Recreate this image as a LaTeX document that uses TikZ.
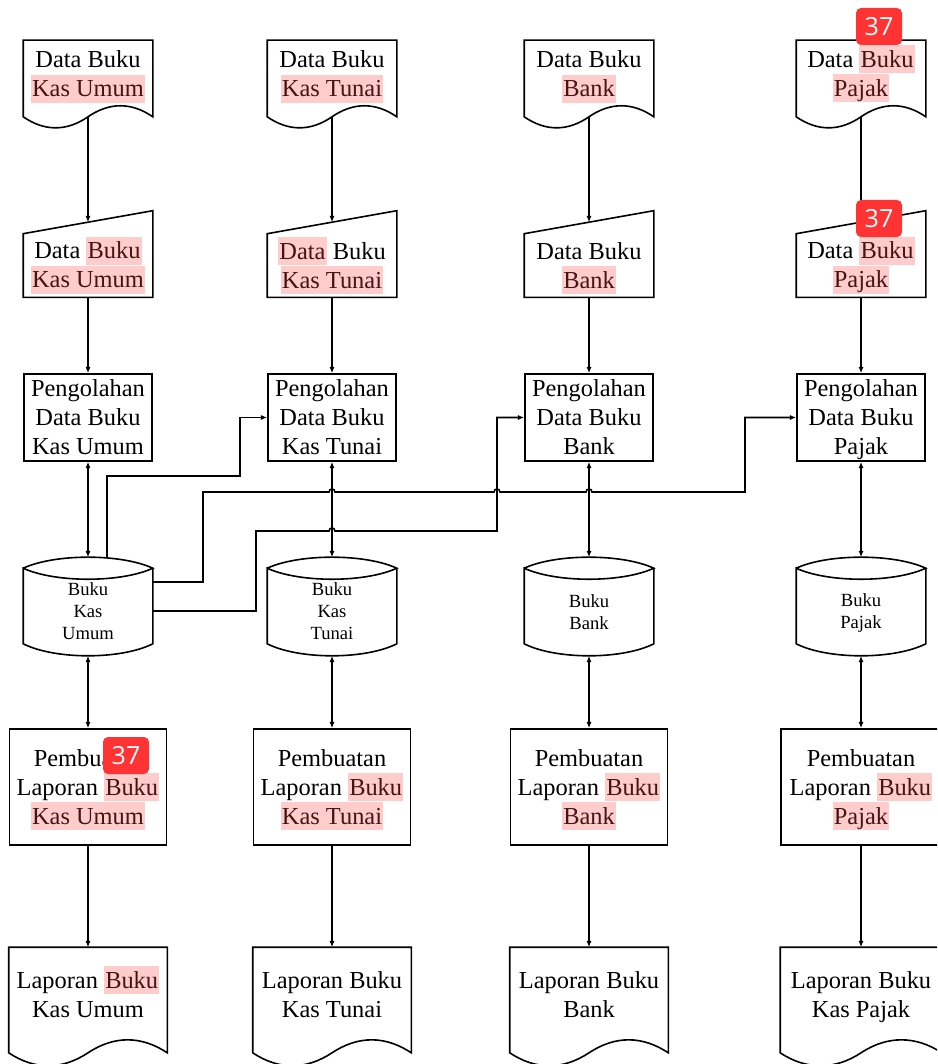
\documentclass[tikz,border=0pt]{standalone}
\usepackage{fontspec}
\setmainfont{Liberation Serif}
\newfontfamily\badgefont{Open Sans}
\usetikzlibrary{arrows.meta,calc}
\definecolor{hlpink}{RGB}{255,204,204}
\definecolor{hltext}{RGB}{70,20,20}
\definecolor{badgered}{RGB}{255,51,51}
\newcommand\hlt[1]{{\setlength{\fboxsep}{0pt}\smash{\colorbox{hlpink}{\rule[-3pt]{0pt}{14pt}\kern0.6pt\textcolor{hltext}{#1}\kern0.6pt}}}}
\newcommand\nodepth[1]{\raisebox{0pt}[\height][0pt]{#1}}
\begin{document}
\begin{tikzpicture}[x=0.5pt,y=-0.5pt,
 line width=0.8pt,
 >={Latex[length=3.2pt,width=2.6pt]},
 txt/.style={align=center,inner sep=0pt,font=\fontsize{12.2}{14.5}\selectfont},
 smalltxt/.style={align=center,inner sep=0pt,font=\fontsize{9.3}{11}\selectfont},
 topshape/.style={rectangle,inner sep=0pt,minimum width=64pt},
 docA/.style={topshape,minimum height=37.5pt},
 manual/.style={topshape,txt,minimum height=31pt},
 procC/.style={topshape,txt,draw,minimum height=43.5pt},
 cyl/.style={topshape,minimum height=48.5pt},
 procE/.style={rectangle,draw,txt,minimum width=78.5pt,minimum height=58pt},
 docF/.style={rectangle,inner sep=0pt,minimum width=78.5pt,minimum height=52pt},
 wide/.style={minimum width=80pt},
 badge/.style={fill=badgered,rounded corners=2.5pt,text=white,inner sep=0pt,minimum width=23pt,minimum height=18.5pt,font=\badgefont\fontsize{12.5}{12.5}\selectfont}
]
\fill[white] (0,0) rectangle (937,1064);
\useasboundingbox (0,0) rectangle (937,1064);
\clip (0,0) rectangle (937,1064);

% ---- row A: source documents
\node[docA] (dA1) at (88,78.5) {};
\node[docA] (dA2) at (332,78.5) {};
\node[docA] (dA3) at (589,78.5) {};
\node[docA] (dA4) at (861,78.5) {};
\node[txt] (tA1) at (88,74) {Data Buku\\\hlt{Kas Umum}};
\node[txt] (tA2) at (332,74) {Data Buku\\\hlt{Kas Tunai}};
\node[txt] (tA3) at (589,74) {Data Buku\\\hlt{Bank}};
\node[txt] (tA4) at (861,74) {Data \hlt{Buku}\\\hlt{Pajak}};

% ---- row B: manual input
\node[manual] (mB1) at (88,265.5) {Data \hlt{Buku}\\\hlt{Kas Umum}};
\node[manual] (mB2) at (332,265.5) {\hlt{Data} Buku\\\hlt{Kas Tunai}};
\node[manual] (mB3) at (589,265.5) {Data Buku\\\hlt{Bank}};
\node[manual] (mB4) at (861,265.5) {Data \hlt{Buku}\\\hlt{Pajak}};

% ---- row C: processing
\node[procC] (pC1) at (88,417.5) {Pengolahan\\Data Buku\\Kas Umum};
\node[procC] (pC2) at (332,417.5) {Pengolahan\\Data Buku\\Kas Tunai};
\node[procC] (pC3) at (589,417.5) {Pengolahan\\Data Buku\\Bank};
\node[procC] (pC4) at (861,417.5) {Pengolahan\\Data Buku\\\nodepth{Pajak}};

% ---- row D: storage
\node[cyl] (cD1) at (88,606.5) {};
\node[cyl] (cD2) at (332,606.5) {};
\node[cyl] (cD3) at (589,606.5) {};
\node[cyl] (cD4) at (861,606.5) {};
\node[smalltxt] (tD1) at (88,611) {Buku\\Kas\\Umum};
\node[smalltxt] (tD2) at (332,611) {Buku\\Kas\\Tunai};
\node[smalltxt] (tD3) at (589,612.5) {Buku\\Bank};
\node[smalltxt] (tD4) at (861,613) {Buku\\Pajak};

% ---- row E: report making
\node[procE] (pE1) at (88,787) {Pembuatan\\Laporan \hlt{Buku}\\\hlt{Kas Umum}};
\node[procE] (pE2) at (332,787) {Pembuatan\\Laporan \hlt{Buku}\\\hlt{Kas Tunai}};
\node[procE] (pE3) at (589,787) {Pembuatan\\Laporan \hlt{Buku}\\\hlt{Bank}};
\node[procE,wide] (pE4) at (861,787) {Pembuatan\\Laporan \hlt{Buku}\\\hlt{Pajak}};

% ---- row F: report documents
\node[docF] (dF1) at (88,1000) {};
\node[docF] (dF2) at (332,1000) {};
\node[docF] (dF3) at (589,1000) {};
\node[docF,wide] (dF4) at (861,1000) {};
\node[txt] (tF1) at (88,995) {Laporan \hlt{Buku}\\Kas Umum};
\node[txt] (tF2) at (332,995) {Laporan Buku\\Kas Tunai};
\node[txt] (tF3) at (589,995) {Laporan Buku\\Bank};
\node[txt] (tF4) at (861,997) {Laporan Buku\\Kas Pajak};

% ---- outlines
\foreach \n in {dA1,dA2,dA3,dA4}{
 \draw (\n.south east) -- (\n.north east) -- (\n.north west) -- (\n.south west)
   .. controls +(21.3,14.7) and +(-21.3,14.7) .. (\n.south)
   .. controls +(21.3,-14.7) and +(-21.3,-14.7) .. (\n.south east) -- cycle;
}
\foreach \n in {dF1,dF2,dF3,dF4}{
 \draw (\n.south east) -- (\n.north east) -- (\n.north west) -- (\n.south west)
   .. controls +(26.2,17.3) and +(-26.2,17.3) .. (\n.south)
   .. controls +(26.2,-17.3) and +(-26.2,-17.3) .. (\n.south east) -- cycle;
}
\foreach \n in {mB1,mB2,mB3,mB4}{
 \draw (\n.south west) -- (\n.north west) -- ($(\n.north east)+(0,-23)$) -- (\n.south east) -- cycle;
}
\foreach \n in {cD1,cD2,cD3,cD4}{
 \draw ($(\n.north west)+(0,11)$) .. controls +(32,-14.7) and +(-32,-14.7) .. ($(\n.north east)+(0,11)$)
   .. controls +(-32,14.7) and +(32,14.7) .. ($(\n.north west)+(0,11)$)
   -- ($(\n.south west)+(0,-12)$) .. controls +(32,16) and +(-32,16) .. ($(\n.south east)+(0,-12)$)
   -- ($(\n.north east)+(0,11)$);
}

% ---- vertical connectors
\foreach \i in {1,2,3,4}{
 \draw[->,shorten >=5.75pt] (dA\i) -- (mB\i);
 \draw[->] (mB\i) -- (pC\i);
 \draw[<->] (pC\i) -- (cD\i);
 \draw[<->] (cD\i) -- (pE\i);
 \draw[->] (pE\i) -- (dF\i);
}

% ---- connectors from Buku Kas Umum
\draw[->] ($(cD1.north)+(19,1)$) |- (240,476) |- (pC2.west);
\draw[->] ($(cD1.east)+(0,-24.5)$) -- (203,582) -- (203,492) -- (329,492)
  .. controls (329,488) and (335,488) .. (335,492) -- (494,492)
  .. controls (494,488) and (500,488) .. (500,492) -- (586,492)
  .. controls (586,488) and (592,488) .. (592,492) -- (745,492) |- (pC4.west);
\draw[->] ($(cD1.east)+(0,4.5)$) -- (256,611) -- (256,531) -- (329,531)
  .. controls (329,527) and (335,527) .. (335,531) -- (497,531) |- (pC3.west);

% ---- badges
\node[badge] (b1) at (879,26.5) {37};
\node[badge] (b2) at (879,218.5) {37};
\node[badge] (b3) at (126,755.5) {37};
\end{tikzpicture}
\end{document}
